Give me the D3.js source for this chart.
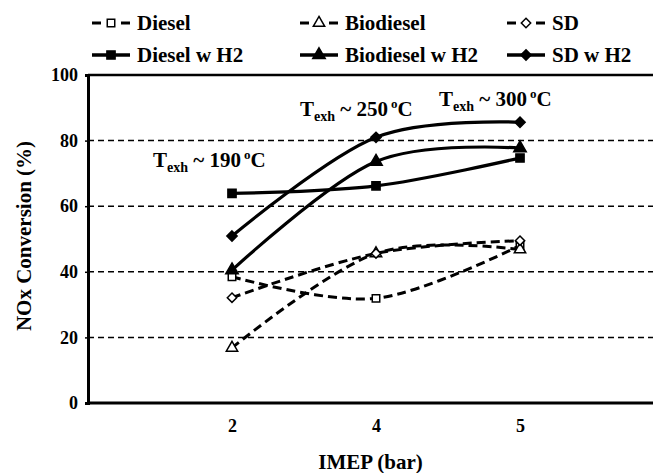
<!DOCTYPE html>
<html><head><meta charset="utf-8">
<script src="https://cdn.jsdelivr.net/npm/d3@7"></script>
<style>body{margin:0;background:#fff}svg{display:block}</style>
</head><body><svg id="c" width="653" height="473"></svg>
<script>
const categories = ["2", "4", "5"];
const yTicks = [0, 20, 40, 60, 80, 100];
const seriesNames = ["Diesel", "Biodiesel", "SD", "Diesel w H2", "Biodiesel w H2", "SD w H2"];
const diesel = [38.5, 31.9, 48.0];
const biodiesel = [16.8, 45.6, 46.8];
const sd = [32.1, 45.6, 49.5];
const dieselH2 = [63.9, 66.2, 74.7];
const biodieselH2 = [40.5, 73.6, 77.7];
const sdH2 = [50.9, 81.0, 85.6];
const annotationTemps = ["190", "250", "300"];

const FONT = '"Liberation Serif"';
const svg = d3.select("#c");
const L = 88, R = 664, T = 75, B = 403, W = 653;
const x = d3.scaleLinear().domain([0, categories.length + 1]).range([L, R]);
const xc = i => x(i + 1);
const y = d3.scaleLinear().domain([0, 100]).range([B, T]);

// gridlines
svg.append("g").selectAll("line").data(yTicks.filter(v => v > 0 && v < 100)).join("line")
  .attr("x1", L).attr("x2", W).attr("y1", d => y(d)).attr("y2", d => y(d))
  .attr("stroke", "#000").attr("stroke-width", 1.5).attr("stroke-dasharray", "6,4");
// top border
svg.append("line").attr("x1", L).attr("x2", W).attr("y1", y(100)).attr("y2", y(100))
  .attr("stroke", "#000").attr("stroke-width", 2.5);

// y axis
const yAxis = svg.append("g").attr("transform", `translate(${L},0)`)
  .call(d3.axisLeft(y).tickValues(yTicks).tickSize(3).tickPadding(7));
yAxis.select(".domain").attr("stroke-width", 3);
yAxis.selectAll(".tick line").attr("stroke-width", 1.5);
yAxis.selectAll("text").style("font-size", "18px");

// x axis
const xAxis = svg.append("g").attr("transform", `translate(0,${B})`)
  .call(d3.axisBottom(x).tickValues(categories.map((c, i) => i + 1)).tickFormat((d) => categories[d - 1]).tickSize(0).tickPadding(16));
xAxis.select(".domain").remove();
svg.append("line").attr("x1", L).attr("x2", W).attr("y1", B).attr("y2", B).attr("stroke", "#000").attr("stroke-width", 3);
xAxis.selectAll("text").style("font-size", "18px");

// axis titles
svg.append("text").attr("x", (L + W) / 2).attr("y", 469).attr("text-anchor", "middle").style("font-size", "21px").text("IMEP (bar)");
svg.append("text").attr("transform", "translate(31,236) rotate(-90)").attr("text-anchor", "middle").style("font-size", "21px").text("NOx Conversion (%)");

const series = [
  {name: seriesNames[0], vals: diesel, dashed: true, shape: "square", fill: "#fff"},
  {name: seriesNames[1], vals: biodiesel, dashed: true, shape: "triangle", fill: "#fff"},
  {name: seriesNames[2], vals: sd, dashed: true, shape: "diamond", fill: "#fff"},
  {name: seriesNames[3], vals: dieselH2, dashed: false, shape: "square", fill: "#000"},
  {name: seriesNames[4], vals: biodieselH2, dashed: false, shape: "triangle", fill: "#000"},
  {name: seriesNames[5], vals: sdH2, dashed: false, shape: "diamond", fill: "#000"}
];
const sym = {square: d3.symbolSquare, triangle: d3.symbolTriangle, diamond: d3.symbolDiamond2};
const size = {square: 56, triangle: 56, diamond: 56};

const line = d3.line().x((d, i) => xc(i)).y(d => y(d)).curve(d3.curveCardinal.tension(0));
const gl = svg.append("g");
series.forEach(s => {
  gl.append("path").datum(s.vals).attr("d", line).attr("fill", "none").attr("stroke", "#000")
    .attr("stroke-width", s.dashed ? 3 : 3.2).attr("stroke-dasharray", s.dashed ? "9,5" : null);
});
series.forEach(s => {
  gl.append("g").selectAll("path").data(s.vals).join("path")
    .attr("transform", (d, i) => `translate(${xc(i)},${y(d)})`)
    .attr("d", d3.symbol(sym[s.shape], s.fill === "#000" ? size[s.shape] * 1.2 : size[s.shape]))
    .attr("fill", s.fill).attr("stroke", "#000").attr("stroke-width", 1.5);
});

// annotations
const annPos = [[153, 167], [300, 116], [439, 106]];
annotationTemps.forEach((num, i) => {
  const pos = annPos[i];
  const t = svg.append("text").attr("x", pos[0]).attr("y", pos[1]).style("font-size", "21px");
  t.append("tspan").text("T");
  t.append("tspan").attr("dy", 5).style("font-size", "14px").text("exh");
  t.append("tspan").attr("dy", -5).text(" ~ " + num);
  t.append("tspan").attr("dy", -8).attr("dx", 3).style("font-size", "13px").text("o");
  t.append("tspan").attr("dy", 8).text("C");
});

// legend
const legX = [92, 300, 507], legY = [23, 55];
series.forEach((s, i) => {
  const lx = legX[i % 3], ly = legY[Math.floor(i / 3)];
  const g = svg.append("g");
  if (s.dashed) {
    g.append("line").attr("x1", lx).attr("x2", lx + 9).attr("y1", ly).attr("y2", ly).attr("stroke", "#000").attr("stroke-width", 3);
    g.append("line").attr("x1", lx + 29).attr("x2", lx + 38).attr("y1", ly).attr("y2", ly).attr("stroke", "#000").attr("stroke-width", 3);
  } else {
    g.append("line").attr("x1", lx).attr("x2", lx + 38).attr("y1", ly).attr("y2", ly).attr("stroke", "#000").attr("stroke-width", 3.5);
  }
  g.append("path").attr("transform", `translate(${lx + 19},${ly})`)
    .attr("d", d3.symbol(sym[s.shape], s.fill === "#000" ? size[s.shape] * 1.2 : size[s.shape]))
    .attr("fill", s.fill).attr("stroke", "#000").attr("stroke-width", 1.5);
  g.append("text").attr("x", lx + 45).attr("y", ly + 7).style("font-size", "21px").text(s.name);
});

svg.selectAll("text").style("font-family", FONT).style("font-weight", "bold").attr("fill", "#000");
</script></body></html>
